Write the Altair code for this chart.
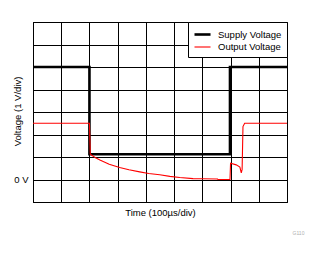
import altair as alt
import pandas as pd

supply_t = [0, 2.0, 2.0, 6.98, 6.98, 9]
supply_v = [5.0, 5.0, 1.12, 1.12, 5.0, 5.0]

output_t = [0, 2.0, 2.03, 2.2, 2.37, 2.7, 3.07, 3.4, 3.78, 4.1, 4.49, 4.85, 5.2,
            5.67, 6.0, 6.54, 6.55, 6.98, 7.0, 7.2, 7.33, 7.38, 7.41, 7.44, 7.5, 9]
output_v = [2.5, 2.5, 1.12, 0.98, 0.87, 0.68, 0.53, 0.43, 0.34, 0.27, 0.21, 0.14, 0.09,
            0.04, 0.03, 0.02, 0.0, 0.0, 0.72, 0.65, 0.55, 0.3, 0.45, 2.35, 2.5, 2.5]

series = ["Supply Voltage", "Output Voltage"]
colors = ["#000000", "#ff0000"]
widths = [2.6, 1.1]

rows = []
for i, (t, v) in enumerate(zip(supply_t, supply_v)):
    rows.append({"t": t, "v": v, "s": series[0], "i": i})
for i, (t, v) in enumerate(zip(output_t, output_v)):
    rows.append({"t": t, "v": v, "s": series[1], "i": i})
df = pd.DataFrame(rows)

x_ticks = list(range(0, 10))
y_ticks = list(range(-1, 8))

leg = dict(title=None, orient="top-right", offset=0,
           fillColor="white", strokeColor="black",
           padding=5, rowPadding=0,
           labelFont="Liberation Sans", labelFontSize=9.5,
           labelColor="#000", symbolType="M-1,0H1.67",
           symbolSize=144, labelOffset=10)

lines = alt.Chart(df).mark_line(clip=True).encode(
    x=alt.X("t:Q", scale=alt.Scale(domain=[0, 9], nice=False, zero=False),
            axis=alt.Axis(values=x_ticks, labels=False, ticks=False, grid=True,
                          title="Time (100µs/div)", titleFontWeight="normal",
                          titleFont="Liberation Sans", titleFontSize=9.5,
                          titleColor="#000", titlePadding=5)),
    y=alt.Y("v:Q", scale=alt.Scale(domain=[-1, 7], nice=False, zero=False),
            axis=alt.Axis(values=y_ticks, ticks=False, grid=True,
                          labelExpr="datum.value == 0 ? '0 V' : ''",
                          labelFont="Liberation Sans", labelFontSize=9.5,
                          labelColor="#000", labelPadding=5,
                          title="Voltage (1 V/div)", titleFontWeight="normal",
                          titleFont="Liberation Sans", titleFontSize=9.5,
                          titleColor="#000", titleX=-16, titleY=89,
                          titleAngle=270, titleAlign="center",
                          titleBaseline="middle")),
    color=alt.Color("s:N", scale=alt.Scale(domain=series, range=colors),
                    legend=alt.Legend(**leg)),
    strokeWidth=alt.StrokeWidth("s:N", scale=alt.Scale(domain=series, range=widths),
                                legend=alt.Legend(**leg)),
    order="i:Q",
)

note = alt.Chart(pd.DataFrame({"txt": ["G110"]})).mark_text(
    font="Liberation Sans", fontSize=5, color="#b0b0b0", align="center",
    baseline="middle"
).encode(text="txt:N", x=alt.value(265.5), y=alt.value(210.5))

chart = alt.layer(lines, note).properties(
    width=254, height=180,
    autosize=alt.AutoSizeParams(type="none"),
    padding={"left": 33, "top": 22, "right": 33, "bottom": 52},
).configure_axis(
    gridColor="#000", gridOpacity=1, gridWidth=1,
    domainColor="#000", domainWidth=1,
).configure_view(stroke="#000", strokeWidth=1)

chart.save("out.html", embed_options={"renderer": "svg", "actions": False})
